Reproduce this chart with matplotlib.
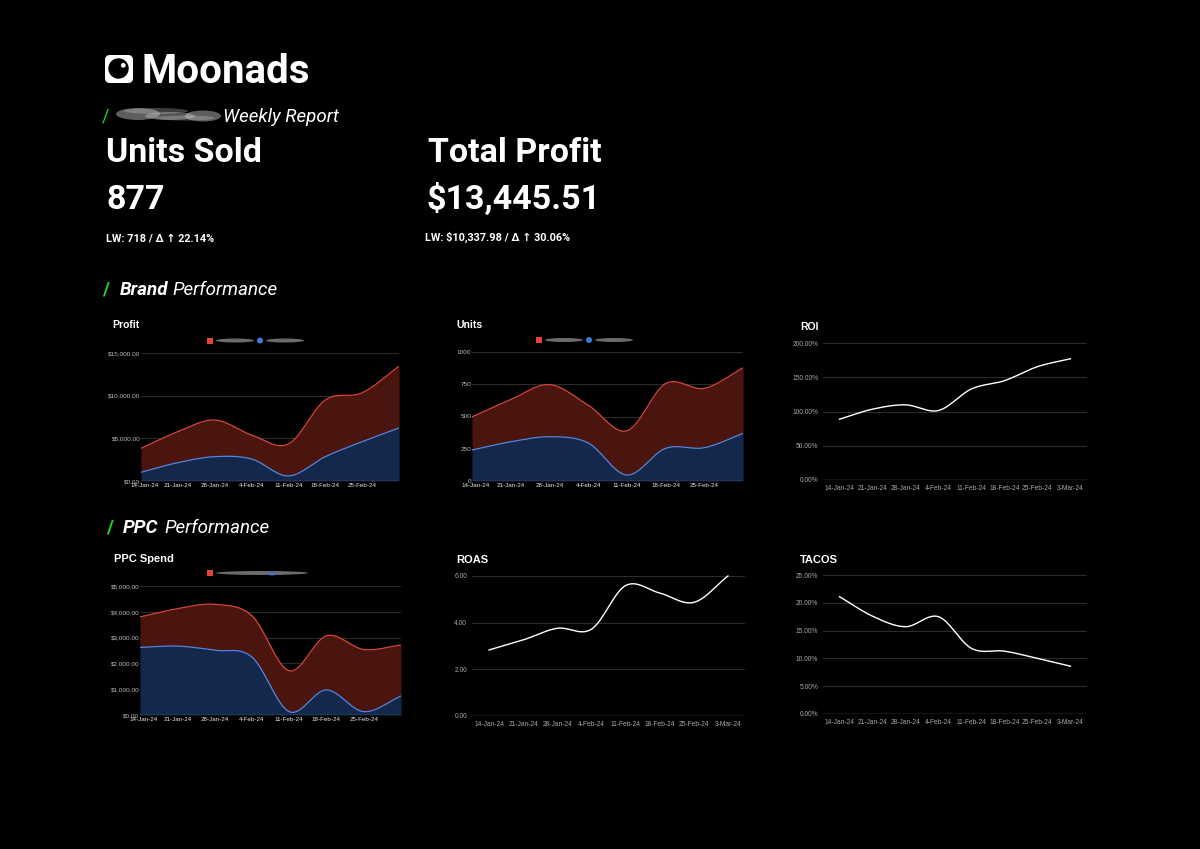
import numpy as np
import matplotlib.pyplot as plt
import matplotlib.transforms as mtransforms
from matplotlib.patches import FancyBboxPatch, Circle, Ellipse, Rectangle
from matplotlib.ticker import FuncFormatter

W, H = 1200, 849

weeks = ['14-Jan-24', '21-Jan-24', '28-Jan-24', '4-Feb-24',
         '11-Feb-24', '18-Feb-24', '25-Feb-24', '3-Mar-24']

# stacked area series (red sits on top of blue)
profit_blue = [1020, 2150, 2850, 2580, 590, 2850, 4610, 6210]
profit_red = [2810, 3630, 4300, 2810, 3750, 6640, 5728, 7236]
units_blue = [240, 304, 343, 295, 46, 253, 258, 369]
units_red = [257, 327, 404, 293, 343, 502, 460, 508]
ppc_blue = [2620, 2670, 2510, 2250, 130, 970, 130, 735]
ppc_red = [1180, 1450, 1780, 1600, 1585, 2100, 2410, 1975]

roi = [88.8, 103.4, 109.7, 101.5, 133.0, 145.0, 165.5, 177.0]
roas = [2.83, 3.26, 3.76, 3.72, 5.59, 5.27, 4.87, 6.0]
tacos = [21.1, 17.6, 15.7, 17.5, 11.8, 11.3, 10.0, 8.6]

BG = 'black'
RED_LINE, RED_FILL = '#d8473d', '#4b150f'
BLUE_LINE, BLUE_FILL = '#5087e6', '#14284c'
GRID = '#2b2b2b'
GREEN = '#25d42a'


def smooth(y, n=30):
    # Catmull-Rom style curve through the points, for drawing only
    y = np.asarray(y, float)
    k = len(y)
    m = np.zeros(k)
    m[1:-1] = (y[2:] - y[:-2]) / 2
    m[0] = y[1] - y[0]
    m[-1] = y[-1] - y[-2]
    xs, ys = [], []
    for i in range(k - 1):
        t = np.linspace(0, 1, n, endpoint=False)
        h00 = 2 * t**3 - 3 * t**2 + 1
        h10 = t**3 - 2 * t**2 + t
        h01 = -2 * t**3 + 3 * t**2
        h11 = t**3 - t**2
        xs.append(i + t)
        ys.append(h00 * y[i] + h10 * m[i] + h01 * y[i + 1] + h11 * m[i + 1])
    xs.append([k - 1])
    ys.append([y[-1]])
    return np.concatenate(xs), np.concatenate(ys)


def box(l, t, r, b):
    return fig.add_axes([l / W, 1 - b / H, (r - l) / W, (b - t) / H])


fig = plt.figure(figsize=(12, 8.49), dpi=100, facecolor=BG)

# overlay in pixel coordinates for the header and titles
ov = fig.add_axes([0, 0, 1, 1])
ov.set_xlim(0, W)
ov.set_ylim(H, 0)
ov.axis('off')
ov.set_facecolor('none')

# logo
ov.add_patch(FancyBboxPatch((105, 55), 28, 28, boxstyle='round,pad=0,rounding_size=5',
                            fc='white', ec='none'))
ov.add_patch(Circle((118.5, 68.5), 10.2, fc='black', ec='none'))
ov.add_patch(Circle((123.3, 65.3), 2.4, fc='white', ec='none'))
ov.text(141, 83, 'Moonads', color='white', fontsize=29, fontweight='bold',
        family='Roboto', va='baseline')

# report line with blurred brand name
ov.text(102, 121.5, '/', color=GREEN, fontsize=13, family='Roboto', va='baseline')
for cx, cy, w, h, a in [(138, 114, 44, 12, 0.45), (170, 116, 50, 8, 0.4),
                        (203, 116, 36, 11, 0.45), (156, 111, 64, 6, 0.3),
                        (185, 118, 60, 5, 0.3)]:
    ov.add_patch(Ellipse((cx, cy), w, h, fc='#d0d0d0', ec='none', alpha=a))
ov.text(223, 121.5, 'Weekly Report', color='white', fontsize=13.5, family='Roboto',
        style='italic', va='baseline')

# KPIs
ov.text(106, 161.5, 'Units Sold', color='white', fontsize=24.5, fontweight='bold', family='Roboto', va='baseline')
ov.text(106, 208.5, '877', color='white', fontsize=24.5, fontweight='bold', family='Roboto', va='baseline')
ov.text(106, 241, 'LW: 718 / Δ ↑ 22.14%', color='white', fontsize=7.8, fontweight='bold',
        family=['Roboto', 'DejaVu Sans'], va='baseline')
ov.text(428, 161.5, 'Total Profit', color='white', fontsize=24.5, fontweight='bold', family='Roboto', va='baseline')
ov.text(427, 208.5, '$13,445.51', color='white', fontsize=24.5, fontweight='bold', family='Roboto', va='baseline')
ov.text(425, 241, 'LW: $10,337.98 / Δ ↑ 30.06%', color='white', fontsize=7.8, fontweight='bold',
        family=['Roboto', 'DejaVu Sans'], va='baseline')

# section headers
ov.text(102, 295, '/', color=GREEN, fontsize=13.5, fontweight='bold', family='Roboto', va='baseline')
ov.text(120, 295, 'Brand', color='white', fontsize=13.5, fontweight='bold', family='Roboto', style='italic', va='baseline')
ov.text(172, 295, 'Performance', color='white', fontsize=13.5, family='Roboto', style='italic', va='baseline')
ov.text(106, 533, '/', color=GREEN, fontsize=13.5, fontweight='bold', family='Roboto', va='baseline')
ov.text(123, 533, 'PPC', color='white', fontsize=13.5, fontweight='bold', family='Roboto', style='italic', va='baseline')
ov.text(164, 533, 'Performance', color='white', fontsize=13.5, family='Roboto', style='italic', va='baseline')

# chart titles
for x, y, s in [(112, 328, 'Profit'), (456, 328, 'Units'), (800, 330, 'ROI'),
                (114, 562, 'PPC Spend'), (456, 563, 'ROAS'), (800, 563, 'TACOS')]:
    ov.text(x, y, s, color='white', fontsize=7.5 if y < 400 else 8, fontweight='bold',
            family='Liberation Sans', va='baseline')


def legend(x, y, blur_w, swirl=False):
    ov.add_patch(Rectangle((x, y - 3), 6, 6, fc='#e8413a', ec='none'))
    ov.add_patch(Ellipse((x + 9 + blur_w / 2, y), blur_w, 4, fc='#a5a5a5', ec='none', alpha=0.65))
    bx = x + 12 + blur_w
    if swirl:
        ov.add_patch(Ellipse((x + 65, y + 1), 8, 3, fc='#3f74d8', ec='none', alpha=0.9))
        return
    ov.add_patch(Circle((bx + 3, y), 3, fc='#3f74d8', ec='none'))
    ov.add_patch(Ellipse((bx + 9 + blur_w / 2, y), blur_w, 4, fc='#a5a5a5', ec='none', alpha=0.65))


legend(207, 340.5, 38)
legend(536, 340, 38)
legend(207, 573, 92, swirl=True)


def money(v, _):
    return '${:,.2f}'.format(v)


def area_chart(rect, blue, red, ymax, step, fmt):
    ax = box(*rect)
    ax.set_facecolor(BG)
    total = np.asarray(blue) + np.asarray(red)
    xs, yb = smooth(blue)
    _, yt = smooth(total)
    ax.fill_between(xs, 0, yb, color=BLUE_FILL, lw=0, zorder=2)
    ax.fill_between(xs, yb, yt, color=RED_FILL, lw=0, zorder=2)
    ax.plot(xs, yt, color=RED_LINE, lw=0.9, zorder=3)
    ax.plot(xs, yb, color=BLUE_LINE, lw=0.9, zorder=3)
    ax.axhline(0, color='#7d8fb5', lw=0.9, zorder=4)
    ax.set_xlim(0, len(blue) - 1)
    ax.set_ylim(0, ymax)
    ax.set_yticks(np.arange(0, ymax + 1, step))
    ax.yaxis.set_major_formatter(FuncFormatter(fmt))
    ax.set_xticks(range(len(weeks) - 1))
    ax.set_xticklabels(weeks[:-1])
    ax.grid(axis='y', color=GRID, lw=0.8, zorder=1)
    for s in ax.spines.values():
        s.set_visible(False)
    ax.tick_params(axis='y', length=0, pad=0.5, labelsize=4.6, labelcolor='#bdbdbd')
    ax.tick_params(axis='x', length=0, pad=1.5, labelsize=4.5, labelcolor='#e6e6e6')
    for lab in ax.get_xticklabels() + ax.get_yticklabels():
        lab.set_fontfamily('Liberation Sans')
    # nudge the first date label clear of the y labels
    first = ax.get_xticklabels()[0]
    first.set_transform(first.get_transform() +
                        mtransforms.ScaledTranslation(3.5 / 100, 0, fig.dpi_scale_trans))
    return ax


area_chart((141, 353, 399, 481), profit_blue, profit_red, 15000, 5000, money)
area_chart((472, 352, 743, 481), units_blue, units_red, 1000, 250, lambda v, _: '{:.0f}'.format(v))
area_chart((140, 586, 401, 715), ppc_blue, ppc_red, 5000, 1000, money)


def line_chart(rect, vals, ymax, step, fmt):
    ax = box(*rect)
    ax.set_facecolor(BG)
    xs, ys = smooth(vals)
    ax.plot(xs, ys, color='white', lw=1.0, zorder=3, clip_on=False)
    ax.axhline(0, color='#9a9a9a', lw=0.9, zorder=4)
    ax.set_xlim(-0.5, len(vals) - 0.5)
    ax.set_ylim(0, ymax)
    ax.set_yticks(np.arange(0, ymax + step / 2, step))
    ax.yaxis.set_major_formatter(FuncFormatter(fmt))
    ax.set_xticks(range(len(weeks)))
    ax.set_xticklabels(weeks)
    ax.grid(axis='y', color=GRID, lw=0.8, zorder=1)
    for s in ax.spines.values():
        s.set_visible(False)
    ax.tick_params(length=0, pad=3.5, labelsize=4.8, labelcolor='#a8a8a8')
    for lab in ax.get_xticklabels() + ax.get_yticklabels():
        lab.set_fontfamily('Liberation Sans')
    return ax


line_chart((823, 343, 1087, 480), roi, 200, 50, lambda v, _: '{:.2f}%'.format(v))
line_chart((472, 576, 745, 716), roas, 6, 2, lambda v, _: '{:.2f}'.format(v))
line_chart((823, 575, 1087, 714), tacos, 25, 5, lambda v, _: '{:.2f}%'.format(v))

fig.savefig('out.png', dpi=100, facecolor=BG)
